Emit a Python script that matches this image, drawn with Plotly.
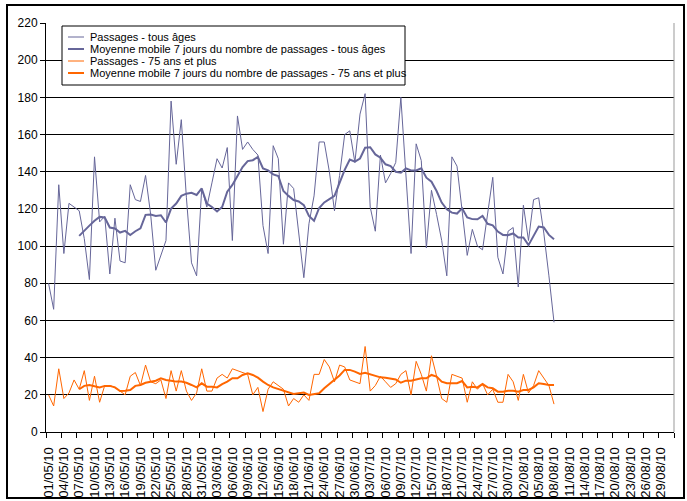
import plotly.graph_objects as go
import pandas as pd

# ---- data -------------------------------------------------------------
start_date = "2010-05-01"
tous_ages = [80, 66, 133, 96, 123, 121, 119, 104, 82, 148,
             113, 116, 85, 115, 92, 91, 133, 125, 124, 138,
             117, 87, 95, 103, 178, 144, 168, 126, 91, 84,
             131, 121, 134, 147, 142, 153, 103, 170, 152, 156,
             152, 149, 111, 96, 154, 147, 101, 134, 131, 108,
             83, 112, 127, 156, 156, 140, 119, 138, 160, 162,
             145, 171, 182, 121, 108, 149, 134, 139, 145, 180,
             137, 96, 155, 146, 99, 130, 117, 103, 84, 148,
             143, 118, 95, 109, 100, 98, 118, 137, 94, 85,
             108, 110, 78, 122, 103, 125, 126, 107, 84, 59]
mm_tous_ages = [None] * 6 + [
    105.5, 108, 111, 113.6, 115.7, 115.4, 110, 109.5, 107.3, 108.2,
    106, 108, 109.6, 116.8, 117, 116.2, 116.6, 112.7, 120.2, 122.9,
    127, 128.2, 128.7, 127.5, 131, 122.9, 121, 118.6, 121, 129.3,
    132.9, 137.7, 142.5, 145.7, 146.2, 147.9, 141.8, 140.7, 138.6, 137.7,
    129.6, 127, 124.8, 124, 122, 116.2, 113.6, 120.5, 123.5, 125.3,
    127, 134, 141, 146.6, 145.4, 147.1, 152.9, 153.2, 149.3, 147.5,
    144, 143, 140, 139.5, 141.8, 140.7, 140.7, 141.8, 136.8, 134.6,
    129.6, 123.4, 119.8, 118, 117.5, 120.3, 115.4, 114.5, 114.4, 116.2,
    112, 111.2, 107.8, 106, 105.9, 106.8, 104.6, 104.6, 100.5, 105.5,
    110.5, 110, 106, 103.7]
plus_75 = [20, 14, 34, 18, 21, 28, 23, 33, 17, 30,
           16, 25, 25, 24, 22, 20, 30, 32, 25, 36,
           27, 26, 28, 18, 33, 22, 33, 22, 17, 21,
           34, 22, 22, 29, 31, 29, 34, 33, 32, 31,
           20, 24, 11, 23, 27, 25, 23, 14, 18, 16,
           20, 17, 31, 31, 39, 35, 27, 36, 35, 28,
           27, 26, 46, 22, 25, 30, 27, 24, 26, 31,
           33, 20, 38, 31, 22, 41, 30, 18, 16, 31,
           30, 29, 16, 27, 23, 26, 20, 23, 16, 16,
           31, 27, 17, 31, 21, 25, 33, 29, 25, 15]
mm_plus_75 = [None] * 6 + [
    23, 24.8, 25.3, 24.8, 24, 24.8, 24.8, 24, 22, 22.2,
    22.6, 24.8, 25.3, 26.5, 27.1, 27.6, 28.9, 28, 27.6, 27.1,
    27.1, 26.5, 25.3, 24, 26.2, 24.4, 24.4, 24, 25.8, 27.1,
    28.9, 28.9, 30.7, 31.6, 30.7, 29.2, 27.1, 25.3, 24, 23,
    22, 21.2, 20.4, 20.8, 21.2, 19.9, 20.4, 20.8, 23.5, 25.8,
    28, 30.4, 33.4, 33.4, 32.5, 31.2, 31.9, 31.2, 30.1, 29.4,
    29.2, 28.9, 28.3, 26.5, 27.6, 27.6, 28.3, 28.9, 28.9, 30.7,
    29.8, 27.1, 26.2, 26.2, 26.2, 27.4, 24, 24.4, 24, 25.8,
    24, 23.5, 21.7, 21.7, 22.2, 22.2, 21.7, 22.6, 22.6, 24,
    26.2, 25.8, 25.3, 25.3]

series_names = ["Passages - tous âges",
                "Moyenne mobile 7 jours du nombre de passages - tous âges",
                "Passages - 75 ans et plus",
                "Moyenne mobile 7 jours du nombre de passages - 75 ans et plus"]

dates = pd.date_range(start_date, periods=len(tous_ages), freq="D")
tick_dates = pd.date_range("2010-05-01", "2010-08-29", freq="3D")
tick_text = [d.strftime("%d/%m/%y") for d in tick_dates]
tick_bounds = list(tick_dates - pd.Timedelta(hours=12)) + [pd.Timestamp("2010-08-31 12:00")]

# ---- style ------------------------------------------------------------
BLUE = "#666699"
ORANGE = "#FF6600"
FONT = "Liberation Sans, Arial, sans-serif"

W, H = 687, 501
L, R, T, B = 46, 13, 23, 69
PW, PH = W - L - R, H - T - B


def px(x):
    return (x - L) / PW


def py(y):
    return (H - B - y) / PH


fig = go.Figure()
widths = [1, 2, 1, 2]
colors = [BLUE, BLUE, ORANGE, ORANGE]
for name, vals, c, w in zip(series_names, [tous_ages, mm_tous_ages, plus_75, mm_plus_75], colors, widths):
    fig.add_trace(go.Scatter(x=dates, y=vals, name=name, mode="lines",
                             line=dict(color=c, width=w), showlegend=False,
                             connectgaps=False))

# legend box drawn with shapes + annotations
shapes = [
    dict(type="rect", xref="paper", yref="paper", x0=px(62), x1=px(405), y0=py(85), y1=py(26),
         line=dict(color="black", width=1), fillcolor="white", layer="above"),
    dict(type="line", xref="paper", yref="paper", x0=1, x1=1, y0=0, y1=1,
         line=dict(color="#999999", width=1)),
    dict(type="rect", xref="paper", yref="paper", x0=px(7), x1=px(684), y0=py(498), y1=py(5),
         line=dict(color="black", width=2)),
]
annotations = []
rows = [37, 49, 61, 73]
for name, c, w, yy in zip(series_names, colors, widths, rows):
    shapes.append(dict(type="line", xref="paper", yref="paper", x0=px(68), x1=px(84),
                       y0=py(yy), y1=py(yy), line=dict(color=c, width=w), layer="above"))
    annotations.append(dict(xref="paper", yref="paper", x=px(88), y=py(yy), text=name,
                            showarrow=False, xanchor="left", yanchor="middle",
                            font=dict(family=FONT, size=11, color="black")))

fig.update_layout(
    width=W, height=H,
    margin=dict(l=L, r=R, t=T, b=B, autoexpand=False),
    paper_bgcolor="white", plot_bgcolor="white",
    shapes=shapes, annotations=annotations,
    showlegend=False,
    xaxis=dict(type="date", range=["2010-04-30 12:00", "2010-08-31 12:00"],
               automargin=False,
               tickmode="array", tickvals=list(tick_dates), ticktext=tick_text,
               tickangle=-90, ticks="", ticklabelstandoff=9,
               tickfont=dict(family=FONT, size=13, color="black"),
               showline=True, linecolor="black", linewidth=1,
               showgrid=False, zeroline=False,
               minor=dict(tickmode="array", tickvals=tick_bounds, ticks="outside",
                          ticklen=5, tickcolor="black", tickwidth=1, showgrid=False)),
    yaxis=dict(range=[0, 220], tickmode="linear", tick0=0, dtick=20,
               automargin=False,
               showgrid=True, gridcolor="black", gridwidth=1,
               ticks="outside", ticklen=5, tickcolor="black",
               showline=True, linecolor="black", linewidth=1, zeroline=False,
               tickfont=dict(family=FONT, size=12, color="black")),
)

fig.write_html("out.html", config={"displayModeBar": False},
               post_script="document.body.style.margin='0px';document.body.style.padding='0px';")
